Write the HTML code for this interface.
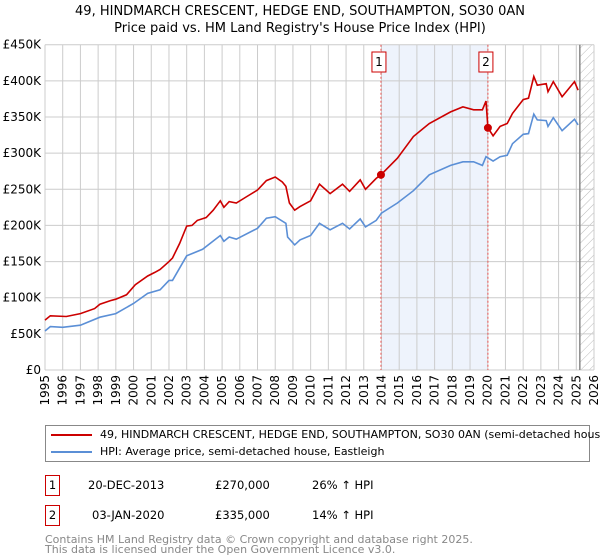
<!DOCTYPE html>
<html><head><meta charset="utf-8"><style>
body{margin:0;background:#fff;font-family:"DejaVu Sans","Liberation Sans",sans-serif;}
#wrap{position:relative;width:600px;height:560px;overflow:hidden;}
.t{position:absolute;font-size:11.5px;color:#000;white-space:nowrap;line-height:14px;}
</style></head><body><div id="wrap">
<svg id="svg" width="600" height="560" style="position:absolute;left:0;top:0">
<defs><pattern id="hatch" width="6" height="6" patternUnits="userSpaceOnUse" patternTransform="rotate(45)"><line x1="0" y1="0" x2="0" y2="6" stroke="#bbb" stroke-width="1"/></pattern></defs>
<text x="300" y="15" text-anchor="middle" font-size="13" font-family="DejaVu Sans, sans-serif">49, HINDMARCH CRESCENT, HEDGE END, SOUTHAMPTON, SO30 0AN</text>
<text x="300" y="32" text-anchor="middle" font-size="13" font-family="DejaVu Sans, sans-serif">Price paid vs. HM Land Registry's House Price Index (HPI)</text>
<g id="plot"></g>
</svg>
<div style="position:absolute;left:45px;top:425px;width:543px;height:35px;border:1px solid #888;">
 <div style="position:absolute;left:5px;top:8px;width:41px;height:2px;background:#cc0000"></div>
 <div class="t" style="left:54px;top:2px;font-size:11px">49, HINDMARCH CRESCENT, HEDGE END, SOUTHAMPTON, SO30 0AN (semi-detached house)</div>
 <div style="position:absolute;left:5px;top:25px;width:41px;height:2px;background:#5b8fd6"></div>
 <div class="t" style="left:54px;top:19px;font-size:11px">HPI: Average price, semi-detached house, Eastleigh</div>
</div>
<div style="position:absolute;left:45px;top:475px;width:13px;height:19px;border:1px solid #cc0000;font-size:11.5px;text-align:center;line-height:19px">1</div>
<div class="t" style="left:88px;top:478px">20-DEC-2013</div>
<div class="t" style="left:215px;top:478px">£270,000</div>
<div class="t" style="left:312px;top:478px">26% ↑ HPI</div>
<div style="position:absolute;left:45px;top:505px;width:13px;height:19px;border:1px solid #cc0000;font-size:11.5px;text-align:center;line-height:19px">2</div>
<div class="t" style="left:92px;top:508px">03-JAN-2020</div>
<div class="t" style="left:215px;top:508px">£335,000</div>
<div class="t" style="left:312px;top:508px">14% ↑ HPI</div>
<div class="t" style="left:45px;top:535px;color:#888;line-height:10px;font-size:11px">Contains HM Land Registry data © Crown copyright and database right 2025.<br>This data is licensed under the Open Government Licence v3.0.</div>
</div>
<script>
const yTicks=[0,50,100,150,200,250,300,350,400,450];
const yTickLabels=["£0","£50K","£100K","£150K","£200K","£250K","£300K","£350K","£400K","£450K"];
const xYears=[1995,1996,1997,1998,1999,2000,2001,2002,2003,2004,2005,2006,2007,2008,2009,2010,2011,2012,2013,2014,2015,2016,2017,2018,2019,2020,2021,2022,2023,2024,2025,2026];
const hpiT=[1995,1995.3,1996,1997,1998.1,1999,2000,2000.8,2001.5,2002,2002.2,2003,2003.9,2004.9,2005.1,2005.4,2005.8,2007,2007.5,2008,2008.6,2008.7,2009.1,2009.4,2010,2010.5,2011.1,2011.8,2012.2,2012.8,2013.1,2013.7,2014,2014.9,2015.8,2016.7,2017.9,2018.6,2019.2,2019.7,2019.9,2020.3,2020.7,2021.1,2021.4,2022,2022.3,2022.6,2022.8,2023.3,2023.4,2023.7,2024.2,2024.9,2025.1];
const hpiV=[54,60,59,62,73,78,92,106,111,124,124,158,167,186,178,184,181,196,210,212,203,184,173,180,186,203,194,203,195,209,198,207,217,231,248,270,283,288,288,283,295,289,295,297,313,326,327,354,346,345,337,349,331,347,339];
const priceT=[1995,1995.3,1996.2,1997,1997.8,1998.1,1998.7,1999,1999.6,2000.1,2000.8,2001.2,2001.5,2002,2002.2,2002.6,2003,2003.3,2003.6,2004.1,2004.5,2004.9,2005.1,2005.4,2005.8,2006.4,2007,2007.5,2008,2008.4,2008.6,2008.8,2009.1,2009.4,2010,2010.5,2011.1,2011.8,2012.2,2012.8,2013.1,2013.7,2013.97,2014.9,2015.8,2016.7,2017.9,2018.6,2019.2,2019.7,2019.9,2020.01,2020.3,2020.7,2021.1,2021.4,2022,2022.3,2022.6,2022.8,2023.3,2023.4,2023.7,2024.2,2024.9,2025.1];
const priceV=[69,75,74,78,85,91,96,98,104,118,130,135,139,150,155,175,199,200,207,211,221,234,225,233,231,240,249,262,267,260,254,231,221,226,234,257,244,257,247,263,250,265,270,293,323,341,357,364,360,360,372,335,324,337,341,355,374,376,406,394,396,385,399,378,399,387];
const saleT=[2013.97,2020.01];
const saleV=[270,335];
const saleLabels=["1","2"];
const X0=45,X1=594,Y0=370,Y1=44.7;
const xs=y=>X0+(y-1995)*(X1-X0)/31;
const ys=v=>Y0-v*(Y0-Y1)/450;
const NS="http://www.w3.org/2000/svg";
const g=document.getElementById('plot');
function mk(tag,attrs,name){const e=document.createElementNS(NS,tag);for(const k in attrs)e.setAttribute(k,attrs[k]);


g.appendChild(e);return e;}
mk('rect',{x:xs(saleT[0]),y:Y1,width:xs(saleT[1])-xs(saleT[0]),height:Y0-Y1,fill:'#eef3fc'},'sale-period-shading');
mk('rect',{x:xs(2025.2),y:Y1,width:X1-xs(2025.2),height:Y0-Y1,fill:'url(#hatch)'},'future-hatch');
yTicks.forEach((v,i)=>{mk('line',{x1:X0,x2:X1,y1:ys(v),y2:ys(v),stroke:'#ccc'},'y-gridline');
const t=mk('text',{x:X0-4,y:ys(v)+4,'text-anchor':'end','font-size':12},'y-tick-label');t.textContent=yTickLabels[i];});
xYears.forEach(y=>{mk('line',{x1:xs(y),x2:xs(y),y1:Y1,y2:Y0,stroke:'#ccc'},'x-gridline');
const t=mk('text',{x:0,y:0,'text-anchor':'end','font-size':12,transform:`translate(${xs(y)+4},${Y0+5}) rotate(-90)`},'x-tick-label');t.textContent=y;});
mk('line',{x1:xs(2025.2),x2:xs(2025.2),y1:Y1,y2:Y0,stroke:'#888','stroke-width':1.5},'data-end-line');
saleT.forEach((s,i)=>{mk('line',{x1:xs(s),x2:xs(s),y1:Y1,y2:Y0,stroke:'#e55','stroke-dasharray':'2,2'},'sale-line');
mk('rect',{x:xs(s)-9,y:52,width:14,height:20,fill:'#fff',stroke:'#cc0000'},'sale-label-box');
const t=mk('text',{x:xs(s)-2,y:66,'text-anchor':'middle','font-size':12},'sale-label');t.textContent=saleLabels[i];});
const path=(T,V)=>T.map((t,i)=>(i?'L':'M')+xs(t).toFixed(1)+','+ys(V[i]).toFixed(1)).join('');
mk('path',{d:path(hpiT,hpiV),fill:'none',stroke:'#5b8fd6','stroke-width':1.6},'hpi-line');
mk('path',{d:path(priceT,priceV),fill:'none',stroke:'#cc0000','stroke-width':1.6},'price-line');
saleT.forEach((s,i)=>mk('circle',{cx:xs(s),cy:ys(saleV[i]),r:4,fill:'#cc0000'},'sale-point'));
</script>
</body></html>
